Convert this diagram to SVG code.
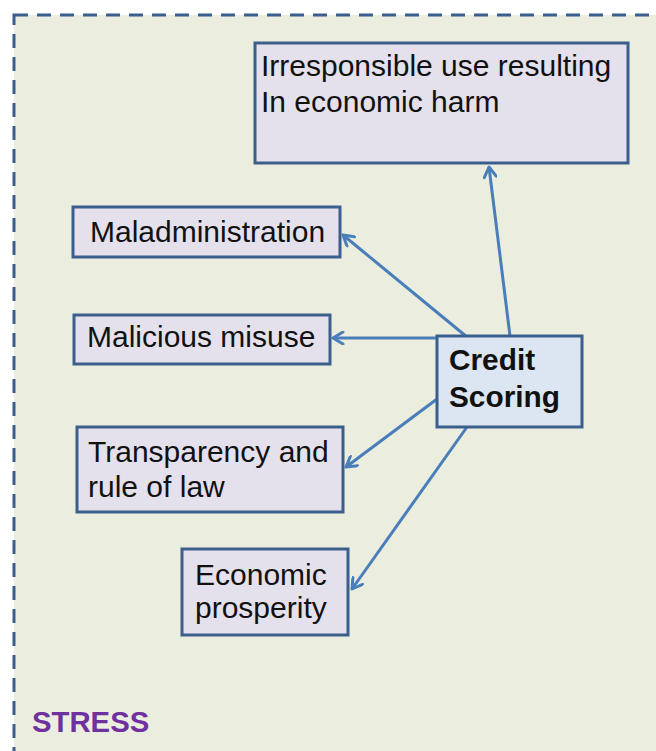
<svg xmlns="http://www.w3.org/2000/svg" width="656" height="751" viewBox="0 0 656 751">
<style>
.box{fill:#E4E0EC;stroke:#3A5F8C;stroke-width:3}
.cs{fill:#DCE6F2;stroke:#3A5F8C;stroke-width:3}
.t{font-family:"Liberation Sans",Arial,sans-serif;font-size:30px;fill:#111}
.b{font-family:"Liberation Sans",Arial,sans-serif;font-size:29.8px;font-weight:bold;fill:#111}
.conn{stroke:#4A7EBB;stroke-width:3;fill:none;marker-end:url(#ah)}
</style>
<defs>
<marker id="ah" viewBox="0 0 14 14" refX="12" refY="7" markerWidth="14" markerHeight="14" markerUnits="userSpaceOnUse" orient="auto">
<path d="M2,1 L12,7 L2,13" fill="none" stroke="#4A7EBB" stroke-width="3" stroke-linecap="round" stroke-linejoin="round"/>
</marker>
</defs>
<rect width="656" height="751" fill="#FFFFFF"/>
<rect x="14" y="15" width="700" height="800" fill="#EBEEDE" stroke="#3A5F8C" stroke-width="3" stroke-dasharray="14 9"/>
<g id="connectors">
<line class="conn" x1="510" y1="336" x2="489" y2="167"/>
<line class="conn" x1="467" y1="337" x2="343" y2="235"/>
<line class="conn" x1="437" y1="338" x2="333" y2="338"/>
<line class="conn" x1="437" y1="399" x2="346" y2="467"/>
<line class="conn" x1="467" y1="427" x2="352" y2="589"/>
</g>
<g id="irresponsible">
<rect class="box" x="255" y="43" width="373" height="120"/>
<text class="t" x="261" y="76">Irresponsible use resulting</text>
<text class="t" x="261" y="112">In economic harm</text>
</g>
<g id="maladministration">
<rect class="box" x="73" y="207" width="267" height="50"/>
<text class="t" x="90" y="242">Maladministration</text>
</g>
<g id="malicious">
<rect class="box" x="74" y="315" width="256" height="49"/>
<text class="t" x="87" y="347">Malicious misuse</text>
</g>
<g id="credit">
<rect class="cs" x="437" y="336" width="145" height="91"/>
<text class="b" x="449" y="370">Credit</text>
<text class="b" x="449" y="407">Scoring</text>
</g>
<g id="transparency">
<rect class="box" x="77" y="427" width="266" height="85"/>
<text class="t" x="88" y="462">Transparency and</text>
<text class="t" x="88" y="497">rule of law</text>
</g>
<g id="economic">
<rect class="box" x="182" y="549" width="166" height="86"/>
<text class="t" x="195" y="585">Economic</text>
<text class="t" x="195" y="618">prosperity</text>
</g>
<text x="32" y="732" font-family="'Liberation Sans',Arial,sans-serif" font-size="29.3" font-weight="bold" fill="#7030A0">STRESS</text>
</svg>
